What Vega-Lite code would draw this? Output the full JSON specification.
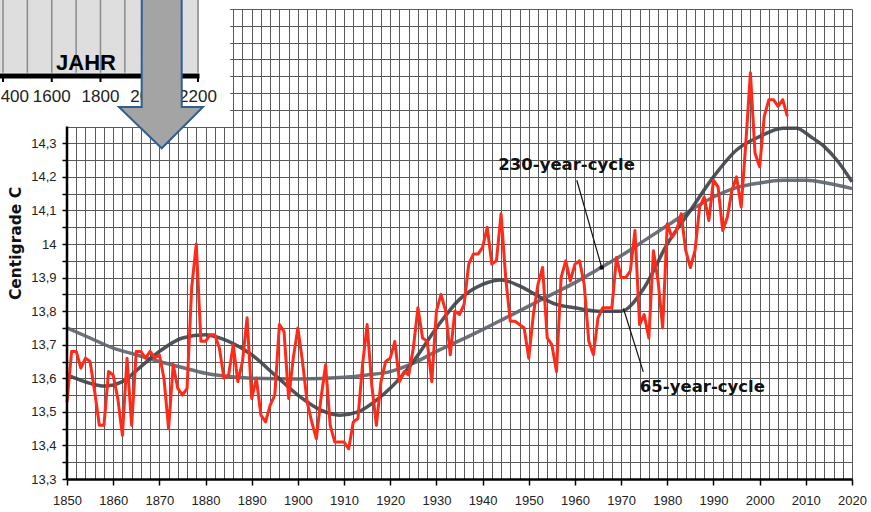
{
  "$schema": "https://vega.github.io/schema/vega-lite/v6.json",
  "width": 785,
  "height": 470,
  "autosize": {"type": "none"},
  "padding": {"left": 67, "top": 9, "right": 19, "bottom": 33},
  "background": "white",
  "config": {"view": {"stroke": null}},
  "datasets": {
    "temp": [
      {"year":1850,"temp":13.53},{"year":1851,"temp":13.68},{"year":1852,"temp":13.68},{"year":1853,"temp":13.63},{"year":1854,"temp":13.66},
      {"year":1855,"temp":13.65},{"year":1856,"temp":13.56},{"year":1857,"temp":13.46},{"year":1858,"temp":13.46},{"year":1859,"temp":13.62},
      {"year":1860,"temp":13.61},{"year":1861,"temp":13.54},{"year":1862,"temp":13.43},{"year":1863,"temp":13.66},{"year":1864,"temp":13.46},
      {"year":1865,"temp":13.68},{"year":1866,"temp":13.68},{"year":1867,"temp":13.66},{"year":1868,"temp":13.68},{"year":1869,"temp":13.66},
      {"year":1870,"temp":13.67},{"year":1871,"temp":13.60},{"year":1872,"temp":13.45},{"year":1873,"temp":13.64},{"year":1874,"temp":13.57},
      {"year":1875,"temp":13.55},{"year":1876,"temp":13.57},{"year":1877,"temp":13.87},{"year":1878,"temp":14.00},{"year":1879,"temp":13.71},
      {"year":1880,"temp":13.71},{"year":1881,"temp":13.73},{"year":1882,"temp":13.73},{"year":1883,"temp":13.69},{"year":1884,"temp":13.60},
      {"year":1885,"temp":13.61},{"year":1886,"temp":13.70},{"year":1887,"temp":13.59},{"year":1888,"temp":13.65},{"year":1889,"temp":13.78},
      {"year":1890,"temp":13.54},{"year":1891,"temp":13.60},{"year":1892,"temp":13.49},{"year":1893,"temp":13.47},{"year":1894,"temp":13.52},
      {"year":1895,"temp":13.55},{"year":1896,"temp":13.76},{"year":1897,"temp":13.74},{"year":1898,"temp":13.54},{"year":1899,"temp":13.66},
      {"year":1900,"temp":13.75},{"year":1901,"temp":13.65},{"year":1902,"temp":13.53},{"year":1903,"temp":13.47},{"year":1904,"temp":13.42},
      {"year":1905,"temp":13.54},{"year":1906,"temp":13.64},{"year":1907,"temp":13.46},{"year":1908,"temp":13.41},{"year":1909,"temp":13.41},
      {"year":1910,"temp":13.41},{"year":1911,"temp":13.39},{"year":1912,"temp":13.47},{"year":1913,"temp":13.48},{"year":1914,"temp":13.64},
      {"year":1915,"temp":13.76},{"year":1916,"temp":13.58},{"year":1917,"temp":13.46},{"year":1918,"temp":13.59},{"year":1919,"temp":13.65},
      {"year":1920,"temp":13.66},{"year":1921,"temp":13.71},{"year":1922,"temp":13.59},{"year":1923,"temp":13.62},{"year":1924,"temp":13.61},
      {"year":1925,"temp":13.69},{"year":1926,"temp":13.81},{"year":1927,"temp":13.72},{"year":1928,"temp":13.71},{"year":1929,"temp":13.59},
      {"year":1930,"temp":13.80},{"year":1931,"temp":13.85},{"year":1932,"temp":13.80},{"year":1933,"temp":13.67},{"year":1934,"temp":13.80},
      {"year":1935,"temp":13.79},{"year":1936,"temp":13.82},{"year":1937,"temp":13.94},{"year":1938,"temp":13.97},{"year":1939,"temp":13.97},
      {"year":1940,"temp":13.99},{"year":1941,"temp":14.05},{"year":1942,"temp":13.94},{"year":1943,"temp":13.95},{"year":1944,"temp":14.09},
      {"year":1945,"temp":13.90},{"year":1946,"temp":13.77},{"year":1947,"temp":13.77},{"year":1948,"temp":13.76},{"year":1949,"temp":13.75},
      {"year":1950,"temp":13.66},{"year":1951,"temp":13.79},{"year":1952,"temp":13.88},{"year":1953,"temp":13.93},{"year":1954,"temp":13.72},
      {"year":1955,"temp":13.70},{"year":1956,"temp":13.62},{"year":1957,"temp":13.90},{"year":1958,"temp":13.95},{"year":1959,"temp":13.89},
      {"year":1960,"temp":13.94},{"year":1961,"temp":13.95},{"year":1962,"temp":13.88},{"year":1963,"temp":13.71},{"year":1964,"temp":13.67},
      {"year":1965,"temp":13.78},{"year":1966,"temp":13.81},{"year":1967,"temp":13.81},{"year":1968,"temp":13.81},{"year":1969,"temp":13.96},
      {"year":1970,"temp":13.90},{"year":1971,"temp":13.90},{"year":1972,"temp":13.92},{"year":1973,"temp":14.04},{"year":1974,"temp":13.76},
      {"year":1975,"temp":13.79},{"year":1976,"temp":13.72},{"year":1977,"temp":13.98},{"year":1978,"temp":13.89},{"year":1979,"temp":13.75},
      {"year":1980,"temp":14.06},{"year":1981,"temp":14.02},{"year":1982,"temp":14.04},{"year":1983,"temp":14.09},{"year":1984,"temp":13.98},
      {"year":1985,"temp":13.93},{"year":1986,"temp":13.98},{"year":1987,"temp":14.11},{"year":1988,"temp":14.14},{"year":1989,"temp":14.07},
      {"year":1990,"temp":14.19},{"year":1991,"temp":14.17},{"year":1992,"temp":14.04},{"year":1993,"temp":14.08},{"year":1994,"temp":14.16},
      {"year":1995,"temp":14.20},{"year":1996,"temp":14.11},{"year":1997,"temp":14.30},{"year":1998,"temp":14.51},{"year":1999,"temp":14.27},
      {"year":2000,"temp":14.23},{"year":2001,"temp":14.38},{"year":2002,"temp":14.43},{"year":2003,"temp":14.43},{"year":2004,"temp":14.41},
      {"year":2005,"temp":14.43},{"year":2006,"temp":14.38}
    ],
    "c65": [
      {"year":1850,"temp":13.61},{"year":1855,"temp":13.585},{"year":1858,"temp":13.577},{"year":1862,"temp":13.59},{"year":1866,"temp":13.635},
      {"year":1870,"temp":13.68},{"year":1875,"temp":13.72},{"year":1880,"temp":13.73},{"year":1885,"temp":13.71},{"year":1890,"temp":13.67},
      {"year":1895,"temp":13.61},{"year":1900,"temp":13.55},{"year":1905,"temp":13.505},{"year":1909,"temp":13.49},{"year":1913,"temp":13.5},
      {"year":1917,"temp":13.535},{"year":1920,"temp":13.57},{"year":1925,"temp":13.65},{"year":1930,"temp":13.75},{"year":1935,"temp":13.835},
      {"year":1940,"temp":13.88},{"year":1944,"temp":13.893},{"year":1948,"temp":13.875},{"year":1952,"temp":13.845},{"year":1956,"temp":13.82},
      {"year":1960,"temp":13.81},{"year":1965,"temp":13.8},{"year":1970,"temp":13.8},{"year":1975,"temp":13.87},{"year":1980,"temp":14.0},
      {"year":1985,"temp":14.1},{"year":1990,"temp":14.2},{"year":1995,"temp":14.28},{"year":2000,"temp":14.32},{"year":2005,"temp":14.345},
      {"year":2008,"temp":14.345},{"year":2011,"temp":14.32},{"year":2014,"temp":14.29},{"year":2017,"temp":14.245},{"year":2020,"temp":14.185}
    ],
    "c230": [
      {"year":1850,"temp":13.75},{"year":1855,"temp":13.72},{"year":1860,"temp":13.69},{"year":1865,"temp":13.67},{"year":1870,"temp":13.65},
      {"year":1875,"temp":13.632},{"year":1880,"temp":13.615},{"year":1885,"temp":13.605},{"year":1890,"temp":13.6},{"year":1900,"temp":13.598},
      {"year":1910,"temp":13.603},{"year":1915,"temp":13.61},{"year":1920,"temp":13.62},{"year":1925,"temp":13.645},{"year":1930,"temp":13.68},
      {"year":1935,"temp":13.712},{"year":1940,"temp":13.745},{"year":1945,"temp":13.78},{"year":1950,"temp":13.815},{"year":1955,"temp":13.85},
      {"year":1960,"temp":13.885},{"year":1965,"temp":13.925},{"year":1970,"temp":13.965},{"year":1975,"temp":14.01},{"year":1980,"temp":14.055},
      {"year":1985,"temp":14.1},{"year":1990,"temp":14.14},{"year":1995,"temp":14.168},{"year":2000,"temp":14.182},{"year":2005,"temp":14.19},
      {"year":2010,"temp":14.19},{"year":2015,"temp":14.18},{"year":2020,"temp":14.165}
    ],
    "pointers": [
      {"year":1960.4,"temp":14.19,"year2":1965.8,"temp2":13.93},
      {"year":1974.8,"temp":13.619,"year2":1970.5,"temp2":13.808}
    ],
    "labels": [
      {"year":1958.2,"temp":14.2204,"label":"230-year-cycle"},
      {"year":1987.6,"temp":13.56,"label":"65-year-cycle"}
    ],
    "insetGrid": [
      {"year":1836.14},{"year":1841.42},{"year":1846.7},{"year":1851.98},{"year":1857.25},
      {"year":1862.53},{"year":1867.81},{"year":1873.09},{"year":1878.37}
    ],
    "insetTicks": [
      {"year":1836.14},{"year":1846.7},{"year":1857.25},{"year":1867.81},{"year":1878.37}
    ],
    "insetLabels": [
      {"year":1838.7,"label":"400"},{"year":1846.7,"label":"1600"},{"year":1857.25,"label":"1800"},
      {"year":1867.81,"label":"2000"},{"year":1878.37,"label":"2200"}
    ],
    "arrow": [
      {"year":1861.26,"temp":14.4081,"temp2":14.4081},
      {"year":1866.17,"temp":14.4081,"temp2":14.3427},
      {"year":1866.19,"temp":14.736,"temp2":14.3427},
      {"year":1870.51,"temp":14.736,"temp2":14.2851},
      {"year":1874.83,"temp":14.736,"temp2":14.3446},
      {"year":1874.85,"temp":14.4081,"temp2":14.3446},
      {"year":1879.45,"temp":14.4081,"temp2":14.4081}
    ]
  },
  "layer": [
    {
      "data": {"name": "c230"},
      "mark": {"type": "line", "color": "#5c626b", "strokeWidth": 3.5, "interpolate": "monotone", "opacity": 0.9},
      "encoding": {
        "x": {"field": "year", "type": "quantitative",
          "scale": {"domain": [1850, 2020], "nice": false, "zero": false},
          "axis": {
            "title": null,
            "values": [1850,1852,1854,1856,1858,1860,1862,1864,1866,1868,1870,1872,1874,1876,1878,1880,1882,1884,1886,1888,1890,1892,1894,1896,1898,1900,1902,1904,1906,1908,1910,1912,1914,1916,1918,1920,1922,1924,1926,1928,1930,1932,1934,1936,1938,1940,1942,1944,1946,1948,1950,1952,1954,1956,1958,1960,1962,1964,1966,1968,1970,1972,1974,1976,1978,1980,1982,1984,1986,1988,1990,1992,1994,1996,1998,2000,2002,2004,2006,2008,2010,2012,2014,2016,2018,2020],
            "tickCount": 500,
            "format": "d",
            "labelExpr": "datum.value % 10 == 0 ? datum.label : ''",
            "labelFlush": false,
            "labelOverlap": false,
            "labelFont": "Liberation Sans",
            "labelFontSize": 13,
            "labelColor": "#222",
            "labelPadding": 9,
            "grid": true,
            "gridColor": "#5a5a5a",
            "gridWidth": 1,
            "domainColor": "#000",
            "domainWidth": 2.5,
            "tickColor": "#000",
            "tickWidth": 1.5,
            "tickSize": 6,
            "tickOpacity": {"condition": {"test": "datum.value % 10 == 0", "value": 1}, "value": 0}
          }
        },
        "y": {"field": "temp", "type": "quantitative",
          "scale": {"domain": [13.3, 14.7], "nice": false, "zero": false},
          "axis": {
            "title": "Centigrade C",
            "titleFont": "DejaVu Sans",
            "titleFontSize": 15.5,
            "titleFontWeight": "bold",
            "titleColor": "#111",
            "titleAngle": 270,
            "titleAlign": "center",
            "titleBaseline": "bottom",
            "titleX": -44,
            "titleY": 234,
            "values": [13.3,13.35,13.4,13.45,13.5,13.55,13.6,13.65,13.7,13.75,13.8,13.85,13.9,13.95,14,14.05,14.1,14.15,14.2,14.25,14.3,14.35,14.4,14.45,14.5,14.55,14.6,14.65,14.7],
            "tickCount": 500,
            "labelExpr": "(round(datum.value*100) % 10 == 0 && datum.value < 14.31) ? (datum.value == 14 ? '14' : replace(format(datum.value, '.1f'), '.', ',')) : ''",
            "labelOverlap": false,
            "labelFont": "Liberation Sans",
            "labelFontSize": 13,
            "labelColor": "#222",
            "labelPadding": 6,
            "grid": true,
            "gridColor": "#5a5a5a",
            "gridWidth": 1,
            "domain": false,
            "tickColor": "#000",
            "tickWidth": 1.5,
            "tickSize": 5,
            "tickOpacity": {"condition": {"test": "datum.value < 14.32", "value": 1}, "value": 0}
          }
        }
      }
    },
    {
      "data": {"name": "c65"},
      "mark": {"type": "line", "color": "#3c4149", "strokeWidth": 3.5, "interpolate": "monotone", "opacity": 0.9},
      "encoding": {
        "x": {"field": "year", "type": "quantitative", "scale": {"domain": [1850, 2020], "nice": false, "zero": false}},
        "y": {"field": "temp", "type": "quantitative", "scale": {"domain": [13.3, 14.7], "nice": false, "zero": false}}
      }
    },
    {
      "data": {"name": "temp"},
      "mark": {"type": "line", "color": "#fe2a1a", "strokeWidth": 3, "strokeJoin": "round"},
      "encoding": {
        "x": {"field": "year", "type": "quantitative", "scale": {"domain": [1850, 2020], "nice": false, "zero": false}},
        "y": {"field": "temp", "type": "quantitative", "scale": {"domain": [13.3, 14.7], "nice": false, "zero": false}}
      }
    },
    {
      "data": {"name": "pointers"},
      "mark": {"type": "rule", "color": "#111", "strokeWidth": 1.2},
      "encoding": {
        "x": {"field": "year", "type": "quantitative", "scale": {"domain": [1850, 2020], "nice": false, "zero": false}},
        "y": {"field": "temp", "type": "quantitative", "scale": {"domain": [13.3, 14.7], "nice": false, "zero": false}},
        "x2": {"field": "year2"},
        "y2": {"field": "temp2"}
      }
    },
    {
      "data": {"values": [{}]},
      "mark": {"type": "point", "filled": true, "color": "#111", "size": 22, "opacity": 1},
      "encoding": {
        "x": {"datum": 1965.8, "type": "quantitative", "scale": {"domain": [1850, 2020], "nice": false, "zero": false}},
        "y": {"datum": 13.93, "type": "quantitative", "scale": {"domain": [13.3, 14.7], "nice": false, "zero": false}}
      }
    },
    {
      "data": {"name": "labels"},
      "mark": {"type": "text", "font": "DejaVu Sans", "fontWeight": "bold", "fontSize": 16.5, "color": "#111", "align": "center", "baseline": "alphabetic"},
      "encoding": {
        "x": {"field": "year", "type": "quantitative", "scale": {"domain": [1850, 2020], "nice": false, "zero": false}},
        "y": {"field": "temp", "type": "quantitative", "scale": {"domain": [13.3, 14.7], "nice": false, "zero": false}},
        "text": {"field": "label"}
      }
    },
    {
      "data": {"values": [{}]},
      "mark": {"type": "rect", "color": "white", "opacity": 1},
      "encoding": {
        "x": {"datum": 1835.49, "type": "quantitative", "scale": {"domain": [1850, 2020], "nice": false, "zero": false}},
        "x2": {"datum": 1885.33},
        "y": {"datum": 14.3485, "type": "quantitative", "scale": {"domain": [13.3, 14.7], "nice": false, "zero": false}},
        "y2": {"datum": 14.74}
      }
    },
    {
      "data": {"values": [{}]},
      "mark": {"type": "rect", "color": "#dedede", "opacity": 1},
      "encoding": {
        "x": {"datum": 1835.49, "type": "quantitative", "scale": {"domain": [1850, 2020], "nice": false, "zero": false}},
        "x2": {"datum": 1878.6},
        "y": {"datum": 14.51, "type": "quantitative", "scale": {"domain": [13.3, 14.7], "nice": false, "zero": false}},
        "y2": {"datum": 14.74}
      }
    },
    {
      "data": {"name": "insetGrid"},
      "mark": {"type": "rule", "color": "#8a8a8a", "strokeWidth": 1.5},
      "encoding": {
        "x": {"field": "year", "type": "quantitative", "scale": {"domain": [1850, 2020], "nice": false, "zero": false}},
        "y": {"datum": 14.51, "type": "quantitative", "scale": {"domain": [13.3, 14.7], "nice": false, "zero": false}},
        "y2": {"datum": 14.74}
      }
    },
    {
      "data": {"values": [{}]},
      "mark": {"type": "rule", "color": "#000", "strokeWidth": 5},
      "encoding": {
        "x": {"datum": 1835.49, "type": "quantitative", "scale": {"domain": [1850, 2020], "nice": false, "zero": false}},
        "x2": {"datum": 1878.7},
        "y": {"datum": 14.5004, "type": "quantitative", "scale": {"domain": [13.3, 14.7], "nice": false, "zero": false}}
      }
    },
    {
      "data": {"name": "insetTicks"},
      "mark": {"type": "rule", "color": "#000", "strokeWidth": 2},
      "encoding": {
        "x": {"field": "year", "type": "quantitative", "scale": {"domain": [1850, 2020], "nice": false, "zero": false}},
        "y": {"datum": 14.5004, "type": "quantitative", "scale": {"domain": [13.3, 14.7], "nice": false, "zero": false}},
        "y2": {"datum": 14.4825}
      }
    },
    {
      "data": {"name": "insetLabels"},
      "mark": {"type": "text", "font": "Liberation Sans", "fontSize": 17, "color": "#222", "align": "center", "baseline": "middle"},
      "encoding": {
        "x": {"field": "year", "type": "quantitative", "scale": {"domain": [1850, 2020], "nice": false, "zero": false}},
        "y": {"datum": 14.4388, "type": "quantitative", "scale": {"domain": [13.3, 14.7], "nice": false, "zero": false}},
        "text": {"field": "label"}
      }
    },
    {
      "data": {"values": [{}]},
      "mark": {"type": "text", "font": "Liberation Sans", "fontWeight": "bold", "fontSize": 22, "color": "#000", "align": "center", "baseline": "middle"},
      "encoding": {
        "x": {"datum": 1854.11, "type": "quantitative", "scale": {"domain": [1850, 2020], "nice": false, "zero": false}},
        "y": {"datum": 14.5377, "type": "quantitative", "scale": {"domain": [13.3, 14.7], "nice": false, "zero": false}},
        "text": {"value": "JAHR"}
      }
    },
    {
      "data": {"values": [{}]},
      "mark": {"type": "rule", "color": "#000", "strokeWidth": 2.5},
      "encoding": {
        "x": {"datum": 1850, "type": "quantitative", "scale": {"domain": [1850, 2020], "nice": false, "zero": false}},
        "y": {"datum": 13.3, "type": "quantitative", "scale": {"domain": [13.3, 14.7], "nice": false, "zero": false}},
        "y2": {"datum": 14.35}
      }
    },
    {
      "data": {"name": "arrow"},
      "mark": {"type": "area", "color": "#a4a4a4", "fillOpacity": 1, "stroke": "#2f5f8f", "strokeWidth": 2, "strokeJoin": "miter"},
      "encoding": {
        "x": {"field": "year", "type": "quantitative", "scale": {"domain": [1850, 2020], "nice": false, "zero": false}},
        "y": {"field": "temp", "type": "quantitative", "scale": {"domain": [13.3, 14.7], "nice": false, "zero": false}},
        "y2": {"field": "temp2"}
      }
    }
  ]
}
